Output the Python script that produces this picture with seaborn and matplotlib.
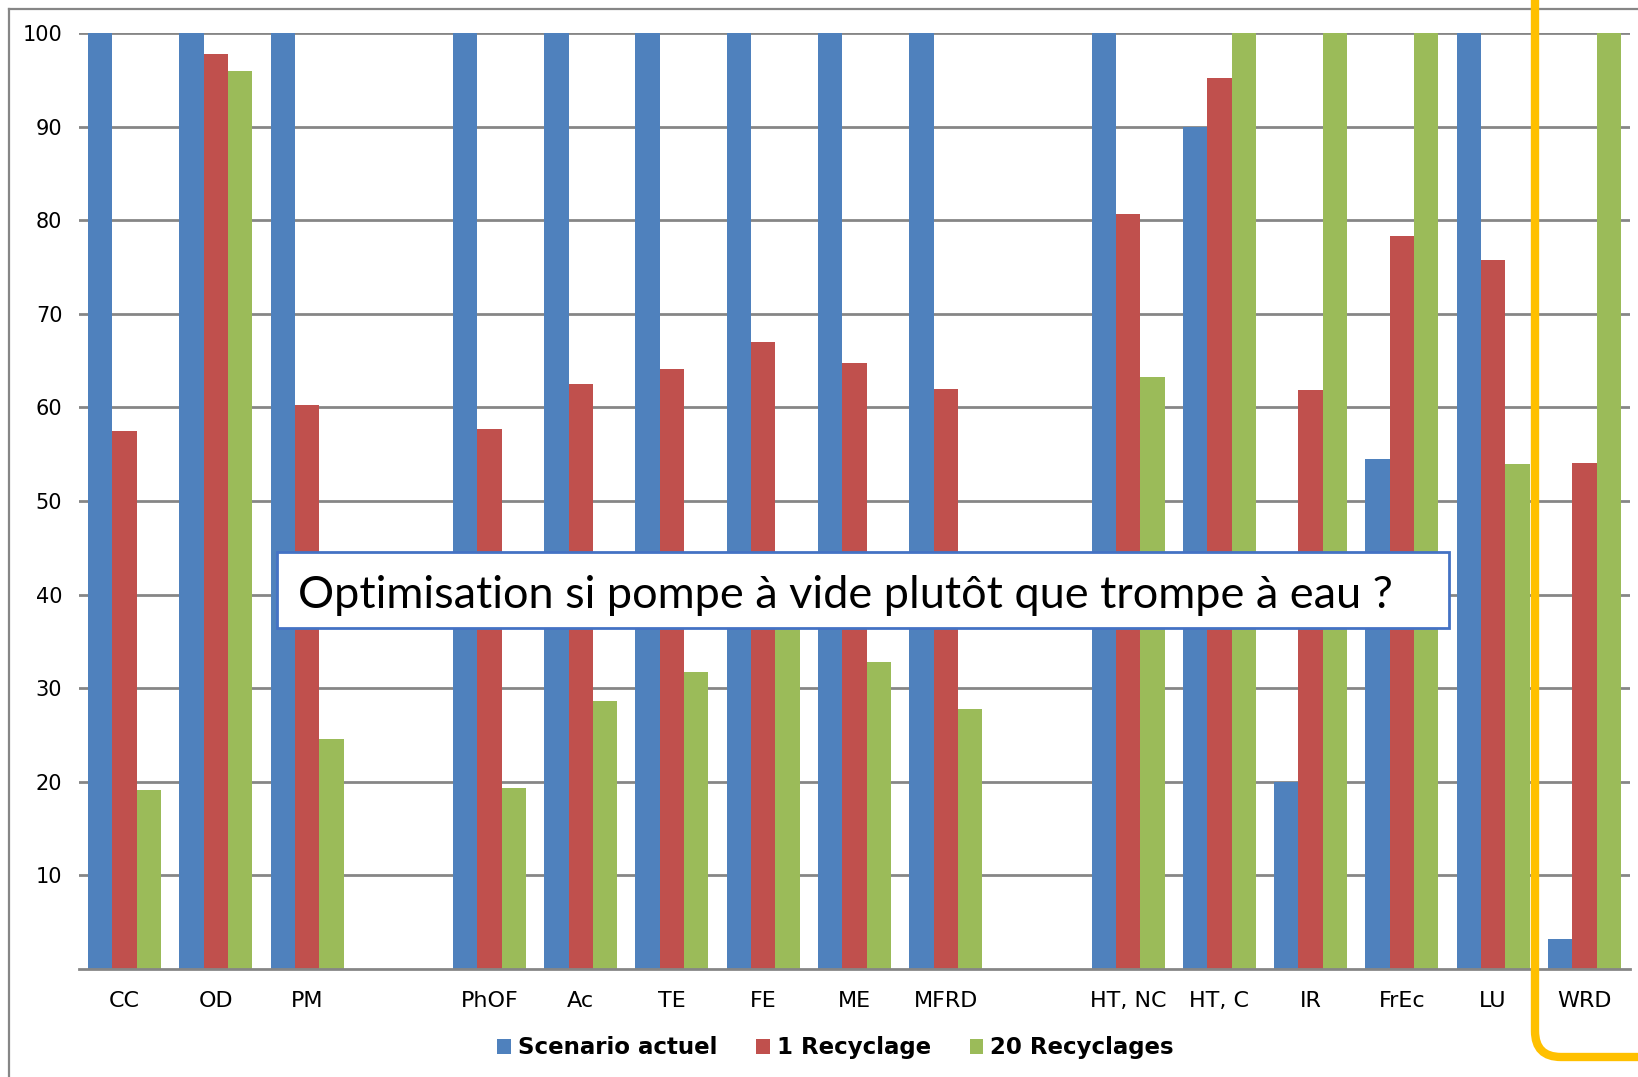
"""
Grouped bar chart: scenario actuel vs recyclages, with callout box
"""

import numpy as np
import pandas as pd
import matplotlib
matplotlib.use("Agg")
import matplotlib.pyplot as plt
import seaborn as sns
from matplotlib.lines import Line2D
from matplotlib.patches import Rectangle, PathPatch
from matplotlib.path import Path

# categories (two blank slots kept as gaps in the axis)
categories = ["CC", "OD", "PM", " ", "PhOF", "Ac", "TE", "FE", "ME", "MFRD", "  ",
              "HT, NC", "HT, C", "IR", "FrEc", "LU", "WRD"]
bar_cats = ["CC", "OD", "PM", "PhOF", "Ac", "TE", "FE", "ME", "MFRD",
            "HT, NC", "HT, C", "IR", "FrEc", "LU", "WRD"]

series_names = ["Scenario actuel", "1 Recyclage", "20 Recyclages"]
scenario_actuel = [100, 100, 100, 100, 100, 100, 100, 100, 100, 100, 90, 20, 54.5, 100, 3.2]
recyclage_1 = [57.5, 97.8, 60.3, 57.7, 62.5, 64.1, 67.0, 64.7, 62.0, 80.7, 95.2, 61.9, 78.3, 75.8, 54.1]
recyclages_20 = [19.1, 95.9, 24.6, 19.3, 28.6, 31.7, 40.0, 32.8, 27.8, 63.2, 100, 100, 100, 54.0, 100]

y_ticks = [10, 20, 30, 40, 50, 60, 70, 80, 90, 100]

colors = ["#4F81BD", "#C0504D", "#9BBB59"]
grid_col = "#868686"

callout = "Optimisation si pompe à vide plutôt que trompe à eau ?"


def main():
    df = pd.DataFrame({
        "cat": bar_cats * 3,
        "serie": np.repeat(series_names, len(bar_cats)),
        "val": scenario_actuel + recyclage_1 + recyclages_20,
    })

    fig = plt.figure(figsize=(16.38, 10.77), dpi=100)
    ax = fig.add_axes([0.0482, 0.1003, 0.9469, 0.869])

    sns.barplot(data=df, x="cat", y="val", hue="serie", order=categories,
                hue_order=series_names, palette=colors, saturation=1, width=0.8,
                linewidth=0, errorbar=None, ax=ax, legend=True)

    ax.set_ylim(0, 100)
    ax.set_xlim(-0.5, len(categories) - 0.5)
    ax.set_yticks(y_ticks)
    ax.set_axisbelow(True)
    ax.yaxis.grid(True, color=grid_col, lw=2)
    ax.tick_params(axis="y", length=0, pad=12, labelsize=15)
    ax.tick_params(axis="x", length=0, pad=16, labelsize=16)
    ax.set_xlabel("")
    ax.set_ylabel("")
    for s in ["left", "right", "top"]:
        ax.spines[s].set_visible(False)
    ax.spines["bottom"].set_color(grid_col)
    ax.spines["bottom"].set_linewidth(2)

    handles, labels = ax.get_legend_handles_labels()
    ax.get_legend().remove()
    fig.legend(handles, labels, loc="center", bbox_to_anchor=(0.51, 0.027),
               ncol=3, frameon=False, handlelength=0.6, handleheight=0.6,
               handletextpad=0.3, columnspacing=1.7,
               prop={"weight": "bold", "size": 16.5})

    W, H = 1638.0, 1077.0
    # outer gray frame (top and left)
    fig.add_artist(Line2D([9 / W, 1.0], [1 - 9 / H, 1 - 9 / H], color=grid_col, lw=1.6,
                          transform=fig.transFigure))
    fig.add_artist(Line2D([9 / W, 9 / W], [0, 1 - 9 / H], color=grid_col, lw=1.6,
                          transform=fig.transFigure))

    # callout box
    fig.add_artist(Rectangle((277 / W, 1 - 628 / H), (1449 - 277) / W, 76 / H,
                             facecolor="white", edgecolor="#4472C4", lw=2,
                             transform=fig.transFigure, zorder=3))
    fig.text(298 / W, 1 - 608 / H, callout, family="Lato", fontsize=32.5,
             ha="left", va="baseline", color="black", zorder=4)

    # orange highlight bracket around WRD
    x0, yb, r = 1535, 1057, 26
    verts = [(x0, -5), (x0, yb - r), (x0, yb), (x0 + r, yb), (W + 5, yb)]
    codes = [Path.MOVETO, Path.LINETO, Path.CURVE3, Path.CURVE3, Path.LINETO]
    verts = [(vx / W, 1 - vy / H) for vx, vy in verts]
    fig.add_artist(PathPatch(Path(verts, codes), facecolor="none", edgecolor="#FFC000",
                             lw=6, transform=fig.transFigure, zorder=5))

    fig.savefig("out.png", dpi=100)


if __name__ == "__main__":
    main()
